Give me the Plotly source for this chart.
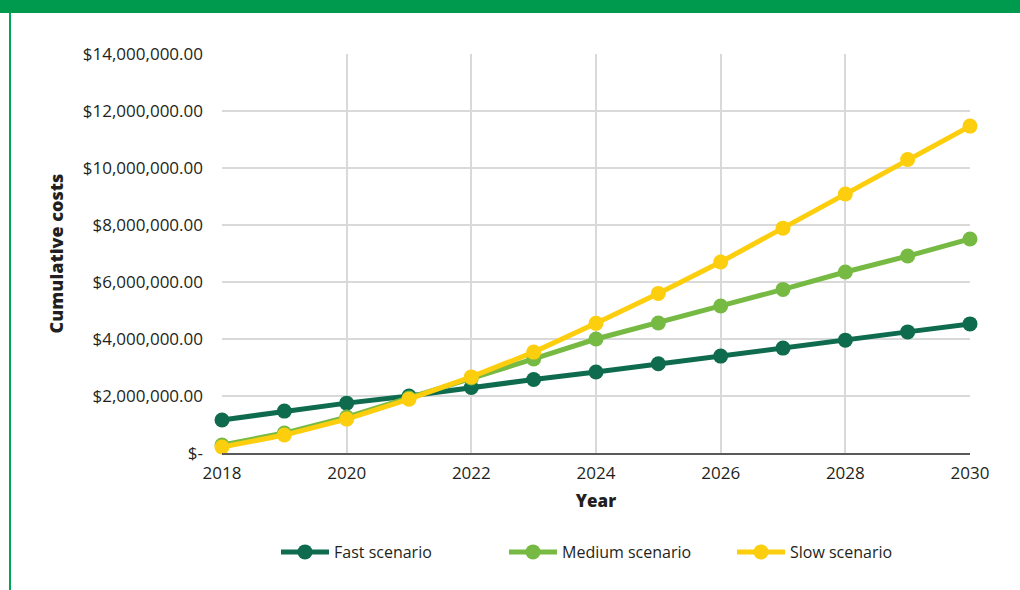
import plotly.graph_objects as go

years = [2018, 2019, 2020, 2021, 2022, 2023, 2024, 2025, 2026, 2027, 2028, 2029, 2030]
fast = [1.16e6, 1.47e6, 1.75e6, 2.00e6, 2.30e6, 2.58e6, 2.84e6, 3.13e6, 3.40e6, 3.68e6, 3.96e6, 4.25e6, 4.53e6]
medium = [0.28e6, 0.70e6, 1.26e6, 1.93e6, 2.63e6, 3.30e6, 4.00e6, 4.56e6, 5.16e6, 5.74e6, 6.35e6, 6.91e6, 7.51e6]
slow = [0.21e6, 0.63e6, 1.19e6, 1.89e6, 2.67e6, 3.54e6, 4.55e6, 5.60e6, 6.70e6, 7.89e6, 9.09e6, 10.30e6, 11.47e6]

series_names = ["Fast scenario", "Medium scenario", "Slow scenario"]
series_colors = ["#0E6B4E", "#76BA43", "#FDCE0E"]

y_tickvals = [0, 2e6, 4e6, 6e6, 8e6, 10e6, 12e6, 14e6]
y_ticktext = ["$-", "$2,000,000.00", "$4,000,000.00", "$6,000,000.00",
              "$8,000,000.00", "$10,000,000.00", "$12,000,000.00", "$14,000,000.00"]
x_tickvals = [2018, 2020, 2022, 2024, 2026, 2028, 2030]

fig = go.Figure()
for name, vals, col in zip(series_names, [fast, medium, slow], series_colors):
    fig.add_trace(go.Scatter(
        x=years, y=vals, name=name, mode="lines+markers",
        line=dict(color=col, width=5),
        marker=dict(color=col, size=15),
        cliponaxis=False,
    ))

W, H = 1020, 590
ml, mr, mt, mb = 222, 50, 54, 137
pw, ph = W - ml - mr, H - mt - mb

def px2x(px):
    return (px - ml) / pw

def py2y(py):
    return 1 + (mt - py) / ph

fig.update_layout(
    width=W, height=H,
    margin=dict(l=ml, r=mr, t=mt, b=mb),
    paper_bgcolor="white", plot_bgcolor="white",
    font=dict(family="'Open Sans', sans-serif", size=17, color="#231F20"),
    showlegend=True,
    legend=dict(orientation="h", x=px2x(276), xanchor="left", y=py2y(535), yanchor="top",
                font=dict(size=16), entrywidth=165, itemwidth=48, traceorder="normal"),
    xaxis=dict(range=[2018, 2030], tickvals=x_tickvals, showgrid=True,
               gridcolor="#D9D9D9", gridwidth=2, showline=True, linecolor="#595959",
               linewidth=2, zeroline=False, ticks="", ticklabelstandoff=4,
               tickfont=dict(size=17),
               title=dict(text="Year", font=dict(size=17, weight=800), standoff=12)),
    yaxis=dict(range=[0, 14e6], tickvals=y_tickvals, ticktext=y_ticktext,
               showgrid=True, gridcolor="#D9D9D9", gridwidth=2, zeroline=False,
               showline=False, ticks="", ticklabelstandoff=18,
               tickfont=dict(size=17),
               title=dict(text="Cumulative costs", font=dict(size=18, weight=800), standoff=14)),
    shapes=[
        dict(type="rect", xref="paper", yref="paper", x0=px2x(0), x1=px2x(W),
             y0=py2y(13), y1=py2y(0), fillcolor="#009A4E", line=dict(width=0), layer="above"),
        dict(type="line", xref="paper", yref="paper", x0=px2x(10), x1=px2x(10),
             y0=py2y(13), y1=py2y(H), line=dict(color="#00A651", width=2)),
    ],
)

fig.write_html("out.html", config={"displayModeBar": False},
               post_script="document.body.style.margin='0';document.body.style.overflow='hidden';")
